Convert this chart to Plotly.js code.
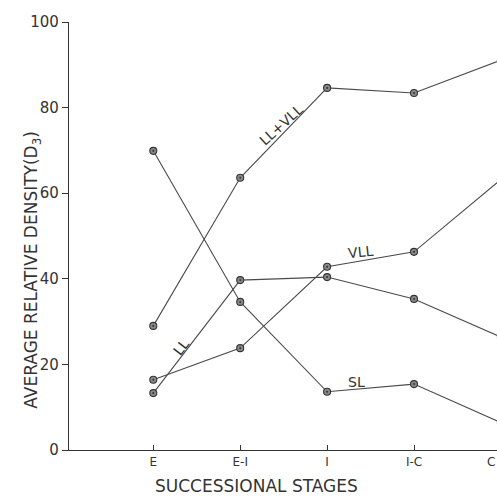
<!DOCTYPE html>
<html>
<head>
<meta charset="utf-8">
<script src="https://cdn.plot.ly/plotly-3.0.1.min.js"></script>
<style>html,body{margin:0;padding:0;background:#fff;}#chart{width:497px;height:497px;}</style>
</head>
<body>
<div id="chart"></div>
<script>
const stages = ["E", "E-I", "I", "I-C", "C"];
const llvll = [29.0, 63.6, 84.6, 83.4, 91.1];
const vll = [16.4, 23.8, 42.8, 46.3, 63.2];
const ll = [13.3, 39.7, 40.4, 35.3, 26.4];
const sl = [69.9, 34.6, 13.6, 15.4, 6.4];
const yTicks = [0, 20, 40, 60, 80, 100];

const ink = "#333";
const font = "DejaVu Sans, sans-serif";

function series(name, ys) {
  return {
    type: "scatter", mode: "lines+markers", name: name,
    x: stages, y: ys,
    line: {color: "#4a4a4a", width: 1.1},
    marker: {symbol: "circle-dot", size: 7, color: "#8a8a8a", line: {color: "#333", width: 1.1}},
    cliponaxis: true
  };
}

const data = [series("LL+VLL", llvll), series("VLL", vll), series("LL", ll), series("SL", sl)];

const lab = (text, x, y, ang, size) => ({
  text: text, x: x, y: y, xref: "x", yref: "y", showarrow: false,
  textangle: ang, font: {family: font, size: size, color: ink}
});

const L = 69, W = 497 - L, H = 497 - 22 - 47;

const layout = {
  width: 497, height: 497,
  margin: {l: L, r: 0, t: 22, b: 47},
  paper_bgcolor: "#fff", plot_bgcolor: "#fff",
  showlegend: false,
  xaxis: {
    type: "category", range: [-0.97, 3.955],
    showgrid: false, zeroline: false, showline: true, linecolor: ink, linewidth: 1.2,
    ticks: "inside", ticklen: 5, tickcolor: ink,
    tickfont: {family: font, size: 12, color: ink}
  },
  yaxis: {
    range: [0, 100], tickvals: yTicks,
    showgrid: false, zeroline: false, showline: true, linecolor: ink, linewidth: 1.2,
    ticks: "outside", ticklen: 6, tickcolor: ink,
    tickfont: {family: font, size: 15, color: ink}
  },
  annotations: [
    lab("LL+VLL", 1.47, 75.9, -42, 14),
    lab("LL", 0.32, 24.1, -52, 14),
    lab("VLL", 2.38, 46.3, -6, 14),
    lab("SL", 2.34, 15.9, 0, 14),
    {text: stages[4], xref: "paper", yref: "paper", x: 1, y: -12 / H, xanchor: "right", yanchor: "middle",
     showarrow: false, font: {family: font, size: 12, color: ink}},
    {text: "SUCCESSIONAL STAGES", xref: "paper", yref: "paper", x: (256 - L) / W, y: -0.112,
     showarrow: false, font: {family: font, size: 17, color: ink}},
    {text: "AVERAGE RELATIVE DENSITY(D<sub>3</sub>)", xref: "paper", yref: "y", x: (19 - L) / W, y: 42,
     textangle: -90, showarrow: false, font: {family: font, size: 17, color: ink}}
  ]
};

Plotly.newPlot("chart", data, layout, {staticPlot: true, displayModeBar: false});
</script>
</body>
</html>
